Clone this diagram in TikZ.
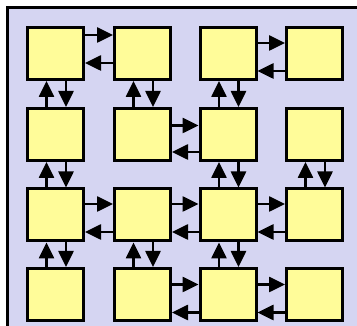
\documentclass[tikz,border=0pt]{standalone}
\usetikzlibrary{arrows.meta,calc}
\definecolor{bgpanel}{RGB}{213,213,242}
\definecolor{boxfill}{RGB}{255,252,153}
\begin{document}
\begin{tikzpicture}[x=1pt,y=-1pt,
  cell/.style={draw=black,fill=boxfill,line width=3pt,minimum width=56pt,minimum height=52pt,inner sep=0pt},
  arr/.style={line width=2.6pt,-{Triangle[length=16pt,width=15pt]}}]
\useasboundingbox (0,0) rectangle (357,326);
\clip (0,0) rectangle (357,326);
\draw[line width=3pt,fill=bgpanel] (7.5,8) rectangle (380,350);
% boxes
\foreach \r/\y in {1/53.5,2/134.5,3/215,4/294.5}{
  \foreach \c/\x in {1/55.5,2/142.5,3/228,4/314.5}{
    \node[cell] (b\r\c) at (\x,\y) {};
  }
}
% horizontal pairs: row, left col, right col, upper offset, lower offset
\foreach \r/\a/\b/\u/\l in {1/1/2/-18.5/9.5, 1/3/4/-10.5/17.5, 2/2/3/-9/17.5, 3/1/2/-11/17, 3/2/3/-11/17, 3/3/4/-11/17, 4/2/3/-10/18, 4/3/4/-10/18}{
  \draw[arr] ($(b\r\a.east)+(0,\u)$) -- ($(b\r\b.west)+(0,\u)$);
  \draw[arr] ($(b\r\b.west)+(0,\l)$) -- ($(b\r\a.east)+(0,\l)$);
}
% vertical pairs: upper row, lower row, col
\foreach \a/\b/\c in {1/2/1, 1/2/2, 1/2/3, 2/3/1, 2/3/3, 2/3/4, 3/4/1, 3/4/2, 3/4/3}{
  \draw[arr] ($(b\b\c.north)+(-9,0)$) -- ($(b\a\c.south)+(-9,0)$);
  \draw[arr] ($(b\a\c.south)+(10.5,0)$) -- ($(b\b\c.north)+(10.5,0)$);
}
\end{tikzpicture}
\end{document}
